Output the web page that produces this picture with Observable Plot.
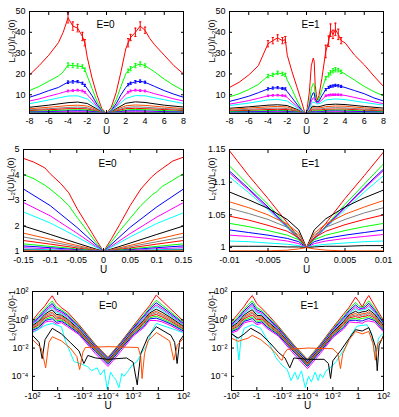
<!DOCTYPE html>
<html><head><meta charset="utf-8">
<script src="https://cdn.jsdelivr.net/npm/d3@7"></script>
<script src="https://cdn.jsdelivr.net/npm/@observablehq/plot@0.6"></script>
<style>
body{margin:0;background:#fff;}
#wrap{position:relative;width:399px;height:417px;overflow:hidden;}
.panel{position:absolute;}
</style></head><body><div id="wrap"></div>
<script>
const colors = ["#ff0000","#00ff00","#0000ff","#ff00ff","#00ffff","#000000","#ff4d00","#808080"];

// ---------- Top-left, E=0 ----------
const tlU = [-8,-7,-6,-5,-4.5,-4,-3.5,-3,-2.5,-2.25,-2,-1.5,-1,-0.5,0,0.5,1,1.5,2,2.25,2.5,3,3.5,4,4.5,5,6,7,8];
const tlMain = [
  [19.5,24,29,35,40,47,43,42,38,35,28,18,10,3.5,1,4,11,21,32,35,37.5,40,43,41,37,34,29,24,20],
  [12,14,16.5,19,21,24.3,24,23.8,23.5,22,19,13,7,2.8,1,3,7.5,14,20,21.5,22.5,24,24.8,24,22.5,21,17.5,14.5,12],
  [8.8,10.3,12,13.5,14.8,16,16.2,16.3,15.5,14.5,13,9.5,5.5,2.3,1,2.4,5.7,10,13.5,14.8,15.5,16.2,16.5,16,15,14,12,10.3,8.8],
  [7,8,9.3,10.5,11.2,11.8,12,12.2,11.8,11.2,10,7.5,4.5,2,1,2,4.6,7.6,10.2,11.2,11.8,12.2,12,11.8,11.2,10.5,9.3,8,7]
];
const tlErrU = [-4,-3.5,-3,-2.5,-2.25,2.25,2.5,3,3.5,4];
const tlErr = [
  [2.5,2,1.8,2,1.5,2,1.5,2,2,1.5],
  [1,1,1,0.8,0.8,0.8,1,1,1,0.8],
  [0.6,0.6,0.5,0.5,0.5,0.5,0.5,0.6,0.6,0.5],
  [0.4,0.4,0.4,0.4,0.4,0.4,0.4,0.4,0.4,0.4]
];
const tlUc = [-8,-6,-4,-3,-2,-1,-0.5,0,0.5,1,2,3,4,6,8];
const tlLow = [
  [5.7,7.5,9.4,9.5,8,4,1.9,1,1.9,4.2,8.2,9.6,9.5,7.6,5.8],
  [4,5,6.2,6.5,5.8,3.2,1.7,1,1.7,3.3,5.9,6.6,6.3,5,4.1],
  [3.3,4,4.8,5,4.6,2.8,1.6,1,1.6,2.9,4.7,5.1,4.9,4.1,3.3],
  [2.8,3.3,3.9,4.1,3.8,2.4,1.5,1,1.5,2.5,3.9,4.2,4,3.4,2.9],
  [2.4,2.8,3.3,3.4,3.2,2.1,1.4,1,1.4,2.2,3.3,3.5,3.3,2.9,2.4],
  [2,2.3,2.7,2.8,2.7,1.9,1.35,1,1.35,1.9,2.7,2.9,2.8,2.4,2],
  [1.7,1.9,2.2,2.3,2.2,1.7,1.3,1,1.3,1.7,2.2,2.3,2.2,1.9,1.7],
  [1.5,1.6,1.8,1.9,1.8,1.5,1.2,1,1.2,1.5,1.8,1.9,1.8,1.6,1.5],
  [1.3,1.4,1.5,1.55,1.5,1.3,1.15,1,1.15,1.3,1.5,1.55,1.5,1.4,1.3],
  [1.15,1.2,1.25,1.3,1.25,1.15,1.08,1,1.08,1.15,1.25,1.3,1.25,1.2,1.15],
  [1.05,1.08,1.1,1.12,1.1,1.05,1.03,1,1.03,1.05,1.1,1.12,1.1,1.08,1.05],
  [1.02,1.03,1.04,1.05,1.04,1.02,1.01,1,1.01,1.02,1.04,1.05,1.04,1.03,1.02]
];

// ---------- Top-right, E=1 ----------
const trU = [-8,-7,-6,-5,-4,-3.5,-3,-2.5,-2.2,-2,-1.5,-1,-0.5,-0.2,0,0.3,0.5,0.7,0.8,0.9,1.1,1.3,1.6,2,2.3,2.5,2.75,3,3.3,3.6,4,5,6,7,8];
const trMain = [
  [13.5,16,19.5,24,34.5,36,37.3,36,36.5,29,21,13.8,6.5,1.8,1,11.4,24,27.6,26,14.6,7.3,9.7,17.9,30.8,35.7,41,39,41.4,39,36,35,29,24.4,19,14],
  [9,10.5,12.5,15,19,19.5,20.5,20,19.5,17,12.5,7.5,3,1.5,1,6,13,15.5,15,10,6.5,8,12.5,18,19.5,20.5,21.5,22,21.8,21,20,17,14,11.5,9.5],
  [6.8,8,9.3,11,12.8,13.2,13.4,13,12.8,11.5,8.5,5.5,2.5,1.3,1,4.5,9,11,10.8,8,6.5,7,9.5,12.5,13.5,14,14.2,14.5,14.3,14,13.5,12,10.5,8.5,7],
  [5.5,6.3,7.2,8.3,9.5,9.7,9.8,9.6,9.4,8.7,6.5,4.5,2.2,1.2,1,3.8,7,8.5,8.4,7,6,6.3,7.5,9.5,9.8,9.9,10,10,10,9.9,9.7,8.7,7.7,6.6,5.7]
];
const trErrU = [-4,-3.5,-3,-2.5,-2.2,2,2.3,2.5,2.75,3,3.3,3.6];
const trErr = [
  [1.5,1.5,1.5,1.5,1.5,3,2.5,3,2,3,2.5,1.5],
  [0.8,0.8,0.8,0.8,0.8,0.8,1,1,1,1,0.8,0.8],
  [0.5,0.5,0.5,0.5,0.5,0.5,0.5,0.5,0.5,0.5,0.5,0.5],
  [0.35,0.35,0.35,0.35,0.35,0.35,0.35,0.35,0.35,0.35,0.35,0.35]
];
const trUc = [-8,-6,-4,-3,-2,-1,-0.5,0,0.3,0.6,0.9,1.1,1.5,2,3,4,6,8];
const trLow = [
  [4.8,6,7.5,7.8,7,3.8,2,1,3,6.5,6.2,5.5,6,7.5,8,7.7,6.3,5],
  [3.5,4.2,5,5.2,4.8,3,1.7,1,2.2,4.5,4.4,4.2,4.5,5.2,5.5,5.3,4.4,3.6],
  [3,3.6,4.2,4.4,4.1,2.6,1.6,1,2,3.8,3.7,3.6,3.8,4.3,4.6,4.5,3.7,3],
  [2.6,3,3.5,3.6,3.4,2.3,1.5,1,1.8,3.2,3.1,3.1,3.2,3.6,3.8,3.7,3.1,2.6],
  [2.2,2.5,2.9,3,2.9,2,1.4,1,1.6,2.7,2.6,2.6,2.7,3,3.1,3.1,2.6,2.2],
  [1.9,2.1,2.4,2.5,2.4,1.8,1.3,1,1.5,2.2,2.2,2.2,2.3,2.5,2.6,2.6,2.2,1.9],
  [1.6,1.8,2,2.1,2,1.6,1.25,1,1.4,1.9,1.8,1.8,1.9,2.1,2.2,2.1,1.9,1.6],
  [1.4,1.5,1.7,1.75,1.7,1.4,1.2,1,1.3,1.6,1.55,1.55,1.6,1.75,1.8,1.75,1.6,1.4],
  [1.25,1.35,1.45,1.5,1.45,1.25,1.12,1,1.2,1.4,1.35,1.35,1.4,1.5,1.5,1.5,1.35,1.25],
  [1.1,1.15,1.2,1.25,1.2,1.1,1.06,1,1.1,1.2,1.15,1.15,1.2,1.25,1.25,1.25,1.15,1.1],
  [1.03,1.05,1.06,1.07,1.06,1.03,1.02,1,1.03,1.05,1.04,1.04,1.05,1.07,1.07,1.07,1.05,1.03],
  [1.01,1.02,1.02,1.03,1.02,1.01,1.005,1,1.01,1.02,1.015,1.015,1.02,1.03,1.03,1.03,1.02,1.01]
];

// ---------- Middle-left, E=0 ----------
const mlU = [-0.15,-0.13,-0.11,-0.1,-0.08,-0.065,-0.05,-0.03,-0.015,0,0.015,0.03,0.05,0.07,0.09,0.1,0.11,0.13,0.15];
const mlMain = [
  [4.65,4.5,4.28,4.05,3.66,3.3,2.7,2.02,1.5,1,1.5,2.05,2.8,3.45,3.92,4.1,4.25,4.55,4.7],
  [4.02,3.85,3.6,3.45,3.1,2.8,2.35,1.8,1.38,1,1.38,1.8,2.3,2.8,3.2,3.35,3.55,3.8,4.05]
];
const mlUc = [-0.15,-0.1,-0.05,0,0.05,0.1,0.15];
const mlLow = [
  [3.45,2.8,1.95,1,1.95,2.75,3.45],
  [2.92,2.4,1.72,1,1.7,2.35,2.92],
  [2.55,2.12,1.58,1,1.57,2.1,2.52],
  [2.0,1.67,1.33,1,1.33,1.67,2.0],
  [1.72,1.48,1.24,1,1.24,1.48,1.72],
  [1.57,1.38,1.19,1,1.19,1.38,1.57],
  [1.43,1.29,1.14,1,1.14,1.29,1.43],
  [1.3,1.2,1.1,1,1.1,1.2,1.3],
  [1.22,1.15,1.07,1,1.07,1.15,1.22],
  [1.15,1.1,1.05,1,1.05,1.1,1.15],
  [1.1,1.07,1.035,1,1.035,1.07,1.1],
  [1.06,1.04,1.02,1,1.02,1.04,1.06],
  [1.03,1.02,1.01,1,1.01,1.02,1.03],
  [1.01,1.007,1.004,1,1.004,1.007,1.01]
];

// ---------- Middle-right, E=1 ----------
const mrU = [-0.01,-0.0075,-0.005,-0.0025,-0.001,0,0.001,0.0025,0.005,0.0075,0.01];
const mrCurves = [
  [1.148,1.11,1.075,1.038,1.015,1,1.015,1.037,1.075,1.11,1.146],
  [1.125,1.095,1.066,1.034,1.014,1,1.013,1.033,1.066,1.097,1.128],
  [1.117,1.09,1.062,1.032,1.013,1,1.013,1.032,1.062,1.092,1.12],
  [1.114,1.088,1.06,1.031,1.013,1,1.013,1.031,1.061,1.09,1.118],
  [1.108,1.084,1.058,1.03,1.012,1,1.012,1.03,1.058,1.085,1.11],
  [1.085,1.073,1.06,1.043,1.027,1,1.027,1.044,1.062,1.076,1.088],
  [1.07,1.061,1.05,1.036,1.022,1,1.022,1.036,1.051,1.062,1.072],
  [1.06,1.052,1.043,1.031,1.019,1,1.019,1.031,1.043,1.053,1.061],
  [1.048,1.042,1.034,1.025,1.015,1,1.015,1.025,1.035,1.043,1.05],
  [1.037,1.032,1.026,1.019,1.012,1,1.012,1.019,1.026,1.032,1.037],
  [1.027,1.023,1.019,1.014,1.009,1,1.009,1.014,1.019,1.023,1.027],
  [1.019,1.017,1.014,1.01,1.006,1,1.006,1.01,1.014,1.017,1.02],
  [1.01,1.009,1.007,1.005,1.003,1,1.003,1.005,1.007,1.009,1.01],
  [1.002,1.002,1.002,1.001,1.001,1,1.001,1.002,1.002,1.003,1.003],
  [0.995,0.995,0.995,0.996,0.998,1,0.998,0.996,0.995,0.995,0.995]
];

// ---------- Bottom-left, E=0 (L2(U)/L2(0)-1) ----------
const blU = [-100,-32,-10,-5,-2.7,-1.26,-0.5,-0.16,-0.02,-0.001,0.0001,0.001,0.01,0.07,0.2,0.68,2,10,100];
const blBundle = [
  [0.9,3.2,10,25,50,16,7,3.5,0.45,0.018,0.0022,0.025,0.35,3.2,10,56,22,5.6,0.8],
  [0.71,2.0,6.3,12.6,21,7.9,5.0,2.5,0.37,0.016,0.002,0.022,0.3,2.2,7.1,24,11.2,3.5,0.63],
  [0.6,1.5,4.8,8.9,14,5.6,4.0,2.0,0.32,0.014,0.0018,0.02,0.26,1.8,5.6,16,7.9,2.7,0.54],
  [0.5,1.2,3.8,6.6,10,4.2,3.2,1.6,0.28,0.0126,0.0016,0.018,0.22,1.4,4.5,11,5.9,2.1,0.45],
  [0.44,1.0,3.2,5.2,7.6,3.3,2.6,1.3,0.25,0.011,0.0014,0.016,0.19,1.17,3.7,8.5,4.7,1.8,0.39],
  [0.38,0.8,2.5,3.8,5.0,2.4,2.1,1.07,0.21,0.01,0.00126,0.014,0.17,0.95,3.0,5.6,3.4,1.4,0.34],
  [0.33,0.63,2.0,2.8,3.5,1.8,1.8,0.89,0.19,0.0089,0.0011,0.0126,0.15,0.8,2.5,4.0,2.5,1.12,0.3],
  [0.28,0.52,1.66,2.2,2.8,1.4,1.5,0.74,0.16,0.008,0.001,0.011,0.13,0.66,2.1,3.2,2.0,0.93,0.25],
  [0.25,0.43,1.35,1.8,2.1,1.12,1.23,0.62,0.14,0.007,0.0009,0.01,0.11,0.55,1.74,2.4,1.58,0.76,0.22],
  [0.21,0.34,1.07,1.35,1.58,0.85,1.0,0.5,0.12,0.0063,0.0008,0.009,0.098,0.45,1.4,1.8,1.2,0.6,0.19],
  [0.18,0.28,0.89,1.05,1.17,0.66,0.81,0.41,0.107,0.0056,0.0007,0.008,0.085,0.36,1.15,1.32,0.93,0.5,0.16],
  [0.14,0.21,0.68,0.79,0.79,0.5,0.63,0.32,0.089,0.004,0.0005,0.0056,0.071,0.28,0.89,0.89,0.71,0.38,0.126]
];
const blCyanU = [-100,-10,-2.7,-0.5,-0.23,-0.1,-0.05,-0.016,-0.0045,-0.002,-0.00072,-0.0004,-0.0002,-0.000115,0.00016,0.00025,0.0004,0.00074,0.00126,0.0018,0.0034,0.0085,0.02,0.05,0.126,0.3,0.7,10,100];
const blCyanV = [0.12,0.4,0.55,0.32,0.028,0.005,0.0011,0.0008,0.0005,0.00025,0.0004,0.000126,0.0003,0.0000126,0.0002,0.0001,0.000063,0.000016,0.00016,0.0001,0.0002,0.00063,0.0011,0.005,0.016,0.16,0.55,0.25,0.12];
const blBlackU = [-100,-30,-17,-10,-2.7,-0.5,-0.1,-0.02,-0.0083,-0.004,-0.001,0.0001,0.003,0.01,0.021,0.04,0.15,0.7,10,20,31,50,100];
const blBlackV = [0.08,0.025,0.0018,0.04,0.25,0.1,0.025,0.0063,0.0008,0.003,0.002,0.0016,0.002,0.001,0.000025,0.004,0.063,0.32,0.08,0.025,0.0008,0.032,0.08];
const blOrangeU = [-100,-20,-9,-5,-2.7,-0.5,-0.1,-0.03,-0.018,-0.01,-0.0063,0.0001,0.025,0.04,0.051,0.08,0.15,0.7,8,17,32,100];
const blOrangeV = [0.04,0.01,0.0004,0.025,0.063,0.032,0.01,0.0025,0.0003,0.005,0.011,0.0126,0.011,0.0025,0.00007,0.004,0.032,0.126,0.032,0.0014,0.016,0.05];

// ---------- Bottom-right, E=1 ----------
const brU = [-100,-32,-10,-5,-2.3,-1,-0.4,-0.16,-0.02,-0.001,0.0001,0.001,0.01,0.07,0.2,0.62,1.12,2.1,4,6.9,20,100];
const brBundle = [
  [0.72,2.5,8.9,22,52,14,6.3,2.8,0.35,0.014,0.0016,0.018,0.28,2.5,7.9,40,20,7.9,25,52,10,0.89],
  [0.58,1.58,5.6,11.2,22,7.1,4.5,2.0,0.3,0.0126,0.0014,0.016,0.23,1.78,5.6,17,10,7.1,12.6,22,6.3,0.71],
  [0.49,1.2,4.3,7.9,14.8,5.0,3.5,1.58,0.26,0.011,0.00126,0.014,0.2,1.4,4.5,11.2,7.1,6.0,8.9,14.8,4.8,0.6],
  [0.41,0.95,3.4,5.9,10.5,3.7,2.8,1.26,0.22,0.01,0.0011,0.0126,0.18,1.12,3.5,7.9,5.2,5.9,6.6,10.5,3.8,0.5],
  [0.35,0.8,2.8,4.7,7.9,2.95,2.3,1.05,0.19,0.0089,0.001,0.011,0.155,0.93,2.95,6.0,4.2,5.1,5.2,7.9,3.2,0.44],
  [0.31,0.63,2.2,3.4,5.2,2.1,1.9,0.85,0.17,0.0079,0.0009,0.01,0.135,0.76,2.4,4.0,3.0,3.7,3.8,5.2,2.5,0.38],
  [0.27,0.5,1.78,2.5,3.7,1.58,1.58,0.71,0.148,0.0071,0.0008,0.0089,0.117,0.63,2.0,2.8,2.2,2.7,2.8,3.7,2.0,0.33],
  [0.23,0.42,1.48,2.0,2.95,1.26,1.32,0.59,0.129,0.0063,0.0007,0.0079,0.102,0.52,1.66,2.2,1.78,2.2,2.2,2.95,1.66,0.28],
  [0.2,0.34,1.2,1.58,2.2,1.0,1.1,0.49,0.112,0.0056,0.00063,0.0071,0.089,0.44,1.38,1.7,1.41,1.7,1.78,2.2,1.35,0.25],
  [0.17,0.27,0.95,1.2,1.66,0.76,0.89,0.4,0.098,0.005,0.00056,0.0063,0.078,0.35,1.12,1.26,1.07,1.26,1.35,1.66,1.07,0.21],
  [0.145,0.22,0.79,0.93,1.23,0.59,0.72,0.32,0.085,0.0045,0.0005,0.0056,0.068,0.29,0.91,0.93,0.83,0.83,1.05,1.23,0.89,0.18],
  [0.115,0.17,0.6,0.71,0.83,0.45,0.56,0.25,0.071,0.0032,0.00035,0.004,0.056,0.22,0.71,0.63,0.63,0.56,0.79,0.83,0.68,0.14]
];
const brCyanU = [-100,-40,-26,-18,-10,-2.3,-0.5,-0.1,-0.03,-0.01,-0.004,-0.002,-0.001,-0.0006,-0.0003,-0.00015,0.00012,0.0002,0.0004,0.0007,0.001,0.0016,0.003,0.006,0.02,0.1,0.3,0.8,5,12,23,40,100];
const brCyanV = [0.12,0.05,0.0014,0.04,0.25,0.45,0.25,0.02,0.002,0.0006,0.0003,0.00005,0.0002,0.00006,0.00025,0.000016,0.0001,0.00004,0.0002,0.00005,0.00015,0.00008,0.00025,0.0004,0.0012,0.012,0.1,0.35,0.45,0.1,0.0014,0.05,0.12];
const brBlackU = [-100,-30,-10,-3,-0.5,-0.1,-0.02,-0.006,-0.0025,-0.0012,0.0001,0.002,0.0045,0.0066,0.01,0.04,0.2,0.62,2.1,6.9,12,25,32,45,100];
const brBlackV = [0.1,0.05,0.1,0.25,0.1,0.025,0.005,0.002,0.0004,0.002,0.0016,0.0016,0.0008,0.00007,0.00126,0.0063,0.05,0.2,0.16,0.28,0.08,0.01,0.00025,0.016,0.08];
const brOrangeU = [-100,-30,-5,-2.3,-0.5,-0.1,-0.03,-0.013,-0.01,-0.007,-0.004,0.0001,0.01,0.025,0.04,0.06,0.2,0.62,2.1,6.9,15,23,35,100];
const brOrangeV = [0.05,0.03,0.05,0.08,0.04,0.012,0.004,0.0015,0.0014,0.004,0.008,0.01,0.009,0.004,0.00035,0.004,0.04,0.15,0.1,0.15,0.02,0.0014,0.02,0.06];

// ---------- tick labels ----------
const topXTicks = [-8,-6,-4,-2,0,2,4,6,8];
const topYTicks = [10,20,30,40,50];
const mlXTicks = [-0.15,-0.1,-0.05,0,0.05,0.1,0.15];
const mlYTicks = [1,2,3,4,5];
const mrXTicks = [-0.01,-0.005,0,0.005,0.01];
const mrYTicks = [1,1.05,1.1,1.15];
const logXTicks = [-6,-4,-2,0,2,4,6];
const logXLabels = ["-10²","-1","-10⁻²","±10⁻⁴","10⁻²","1","10²"];
const logYTicks = [100,1,0.01,0.0001];
const logYLabels = ["10²","10⁰","10⁻²","10⁻⁴"];

// symmetric log position of U (|U| = 1e-4 maps to the centre)
const tf = u => Math.sign(u) * Math.max(0, Math.log10(Math.abs(u)) + 4);

const FONT = "Liberation Sans, Arial, Helvetica, sans-serif";

function curveLines(xs, curves, colorOffset, xf) {
  return curves.map((c, i) => Plot.line(xs.map((u, j) => ({U: u, v: c[j]})),
    {x: xf ? d => xf(d.U) : "U", y: "v", stroke: colors[(i + colorOffset) % 8], strokeWidth: 1}));
}
function errorBars(xs, curves, errU, errs, cap) {
  const out = [];
  errs.forEach((e, i) => {
    const rows = errU.map((u, j) => { const v = curves[i][xs.indexOf(u)]; return {U: u, lo: v - e[j], hi: v + e[j]}; });
    const st = {stroke: colors[i], strokeWidth: 1};
    out.push(Plot.ruleX(rows, {x: "U", y1: "lo", y2: "hi", ...st}));
    out.push(Plot.link(rows, {x1: d => d.U - cap, x2: d => d.U + cap, y1: "lo", y2: "lo", ...st}));
    out.push(Plot.link(rows, {x1: d => d.U - cap, x2: d => d.U + cap, y1: "hi", y2: "hi", ...st}));
  });
  return out;
}

function panel(o) {
  const marks = [
    ...o.marks,
    Plot.frame({stroke: "black", strokeWidth: 1}),
    Plot.axisX({anchor: "bottom", ticks: o.xTicks, tickSize: -3, tickPadding: o.xPad, tickFormat: o.xFmt, label: null, fontSize: 9}),
    Plot.axisX({anchor: "top", ticks: o.xTicks, tickSize: -3, tickFormat: () => "", label: null}),
    Plot.axisY({anchor: "left", ticks: o.yTicks, tickSize: -3, tickPadding: 7, tickFormat: o.yFmt, label: null, fontSize: 9}),
    Plot.axisY({anchor: "right", ticks: o.yTicks, tickSize: -3, tickFormat: () => "", label: null}),
    Plot.text(["U"], {frameAnchor: "bottom", dy: o.uDy, text: d => d, fontSize: 10}),
    Plot.text([o.eText], {frameAnchor: "top", dx: o.eDx, dy: o.eDy, text: d => d, fontSize: 10}),
    Plot.text([o.yLabel], {frameAnchor: "left", dx: o.yDx, rotate: -90, text: d => d, fontSize: 9})
  ];
  const svg = Plot.plot({
    width: o.width, height: o.height,
    marginLeft: o.mL, marginRight: o.mR, marginTop: o.mT, marginBottom: o.mB,
    style: {fontFamily: FONT, fontSize: "9px", background: "white", color: "black", overflow: "visible"},
    x: {domain: o.xDomain},
    y: {domain: o.yDomain, type: o.yType || "linear"},
    marks
  });
  const div = document.createElement("div");
  div.className = "panel";
  div.style.left = o.left + "px";
  div.style.top = o.top + "px";
  div.appendChild(svg);
  document.getElementById("wrap").appendChild(div);
}

const numFmt = d => String(d);
const yLab = "L₂(U)/L₂(0)";
const yLab1 = "L₂(U)/L₂(0)-1";

panel({left: 0, top: 0, width: 200, height: 140, mL: 29, mR: 17, mT: 11, mB: 27,
  xDomain: [-8, 8], yDomain: [1, 50], xTicks: topXTicks, yTicks: topYTicks, xFmt: numFmt, yFmt: numFmt, xPad: 7,
  marks: [...curveLines(tlU, tlMain, 0), ...errorBars(tlU, tlMain, tlErrU, tlErr, 0.12), ...curveLines(tlUc, tlLow, 4)],
  uDy: 20.5, eText: "E=0", eDx: -1, eDy: 9, yLabel: yLab, yDx: -17});

panel({left: 200, top: 0, width: 199, height: 140, mL: 29, mR: 16, mT: 11, mB: 27,
  xDomain: [-8, 8], yDomain: [1, 50], xTicks: topXTicks, yTicks: topYTicks, xFmt: numFmt, yFmt: numFmt, xPad: 7,
  marks: [...curveLines(trU, trMain, 0), ...errorBars(trU, trMain, trErrU, trErr, 0.12), ...curveLines(trUc, trLow, 4)],
  uDy: 20.5, eText: "E=1", eDx: 4, eDy: 9, yLabel: yLab, yDx: -17});

panel({left: 0, top: 140, width: 200, height: 140, mL: 23, mR: 17, mT: 9, mB: 29,
  xDomain: [-0.15, 0.15], yDomain: [1, 5], xTicks: mlXTicks, yTicks: mlYTicks, xFmt: numFmt, yFmt: numFmt, xPad: 8,
  marks: [...curveLines(mlU, mlMain, 0), ...curveLines(mlUc, mlLow, 2)],
  uDy: 21.5, eText: "E=0", eDx: 4, eDy: 10, yLabel: yLab, yDx: -12});

panel({left: 200, top: 140, width: 199, height: 140, mL: 29, mR: 16, mT: 9, mB: 29,
  xDomain: [-0.01, 0.01], yDomain: [0.994, 1.15], xTicks: mrXTicks, yTicks: mrYTicks, xFmt: numFmt, yFmt: numFmt, xPad: 8,
  marks: [...curveLines(mrU, mrCurves, 0)],
  uDy: 21.5, eText: "E=1", eDx: 4, eDy: 10, yLabel: yLab, yDx: -17});

const lxFmt = d => logXLabels[logXTicks.indexOf(d)];
const lyFmt = d => logYLabels[logYTicks.indexOf(d)];

panel({left: 0, top: 278, width: 200, height: 139, mL: 32, mR: 17, mT: 13, mB: 27,
  xDomain: [-6, 6], yDomain: [1e-5, 100], yType: "log", xTicks: logXTicks, yTicks: logYTicks, xFmt: lxFmt, yFmt: lyFmt, xPad: 5,
  marks: [...curveLines(blU, blBundle, 0, tf),
          ...curveLines(blCyanU, [blCyanV], 4, tf),
          ...curveLines(blBlackU, [blBlackV], 5, tf),
          ...curveLines(blOrangeU, [blOrangeV], 6, tf)],
  uDy: 18, eText: "E=0", eDx: 0, eDy: 10, yLabel: yLab1, yDx: -20});

panel({left: 200, top: 278, width: 199, height: 139, mL: 31, mR: 16, mT: 13, mB: 27,
  xDomain: [-6, 6], yDomain: [1e-5, 100], yType: "log", xTicks: logXTicks, yTicks: logYTicks, xFmt: lxFmt, yFmt: lyFmt, xPad: 5,
  marks: [...curveLines(brU, brBundle, 0, tf),
          ...curveLines(brCyanU, [brCyanV], 4, tf),
          ...curveLines(brBlackU, [brBlackV], 5, tf),
          ...curveLines(brOrangeU, [brOrangeV], 6, tf)],
  uDy: 18, eText: "E=1", eDx: 2, eDy: 10, yLabel: yLab1, yDx: -19});
</script></body></html>
